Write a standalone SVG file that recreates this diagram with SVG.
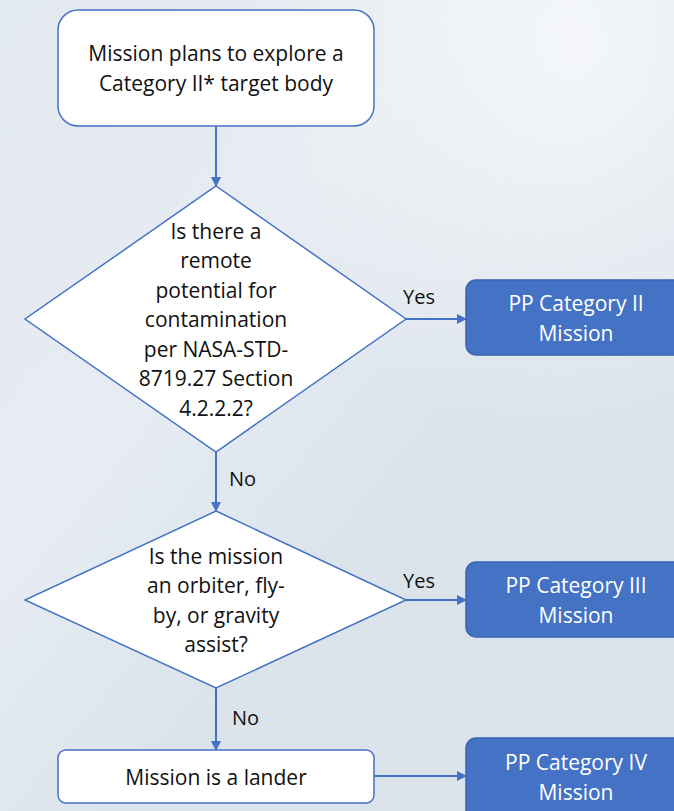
<svg xmlns="http://www.w3.org/2000/svg" width="674" height="811" viewBox="0 0 674 811">
<defs>
<linearGradient id="bg" x1="0" y1="0" x2="1" y2="1">
<stop offset="0" stop-color="#e3e9f0"/>
<stop offset="0.35" stop-color="#e6ecf2"/>
<stop offset="0.6" stop-color="#dbe3eb"/>
<stop offset="1" stop-color="#d9e1e9"/>
</linearGradient>
<radialGradient id="glow" cx="0.85" cy="0.05" r="0.5">
<stop offset="0" stop-color="#f4f6f9"/>
<stop offset="1" stop-color="#f4f6f9" stop-opacity="0"/>
</radialGradient>
<marker id="arr" viewBox="0 0 10 10" refX="9" refY="5" markerWidth="10" markerHeight="10" markerUnits="userSpaceOnUse" orient="auto">
<path d="M0,0 L10,5 L0,10 z" fill="#4472c4"/>
</marker>
<style>
.w{fill:#ffffff;stroke:#4472c4;stroke-width:1.5}
.b{fill:#4472c4;stroke:#3a64b0;stroke-width:1.5}
.t{font-family:"Open Sans","Liberation Sans",sans-serif;font-size:21px;fill:#111;text-anchor:middle}
.tw{font-family:"Open Sans","Liberation Sans",sans-serif;font-size:21px;fill:#ffffff;text-anchor:middle}
.l{font-family:"Open Sans","Liberation Sans",sans-serif;font-size:20px;fill:#111}
.c{stroke:#4472c4;stroke-width:2;fill:none;marker-end:url(#arr)}
</style>
</defs>
<rect width="674" height="811" fill="url(#bg)"/>
<rect width="674" height="811" fill="url(#glow)"/>
<g id="connectors">
<line class="c" x1="216" y1="126" x2="216" y2="186"/>
<line class="c" x1="216" y1="452" x2="216" y2="511"/>
<line class="c" x1="216" y1="688" x2="216" y2="750"/>
<line class="c" x1="406" y1="319" x2="466" y2="319"/>
<line class="c" x1="406" y1="600" x2="466" y2="600"/>
<line class="c" x1="374" y1="776" x2="466" y2="776"/>
<text class="l" x="229" y="486">No</text>
<text class="l" x="232" y="725">No</text>
<text class="l" x="403" y="304">Yes</text>
<text class="l" x="403" y="588">Yes</text>
</g>
<g id="start">
<rect class="w" x="58" y="10" width="316" height="116" rx="20"/>
<text class="t" x="216" y="61">Mission plans to explore a</text>
<text class="t" x="216" y="91">Category II* target body</text>
</g>
<g id="decision1">
<polygon class="w" points="216,186 406,319 216,452 25,319"/>
<text class="t" x="216" y="239">Is there a</text>
<text class="t" x="216" y="268">remote</text>
<text class="t" x="216" y="298">potential for</text>
<text class="t" x="216" y="327">contamination</text>
<text class="t" x="216" y="357">per NASA-STD-</text>
<text class="t" x="216" y="386">8719.27 Section</text>
<text class="t" x="216" y="416">4.2.2.2?</text>
</g>
<g id="decision2">
<polygon class="w" points="216,511 406,600 216,688 25,600"/>
<text class="t" x="216" y="564">Is the mission</text>
<text class="t" x="216" y="593">an orbiter, fly-</text>
<text class="t" x="216" y="623">by, or gravity</text>
<text class="t" x="216" y="652">assist?</text>
</g>
<g id="lander">
<rect class="w" x="58" y="750" width="316" height="53" rx="8"/>
<text class="t" x="216" y="785">Mission is a lander</text>
</g>
<g id="cat2">
<rect class="b" x="466" y="280" width="220" height="75" rx="10"/>
<text class="tw" x="576" y="311">PP Category II</text>
<text class="tw" x="576" y="341">Mission</text>
</g>
<g id="cat3">
<rect class="b" x="466" y="562" width="220" height="75" rx="10"/>
<text class="tw" x="576" y="593">PP Category III</text>
<text class="tw" x="576" y="623">Mission</text>
</g>
<g id="cat4">
<rect class="b" x="466" y="738" width="220" height="85" rx="10"/>
<text class="tw" x="576" y="770">PP Category IV</text>
<text class="tw" x="576" y="800">Mission</text>
</g>
</svg>
